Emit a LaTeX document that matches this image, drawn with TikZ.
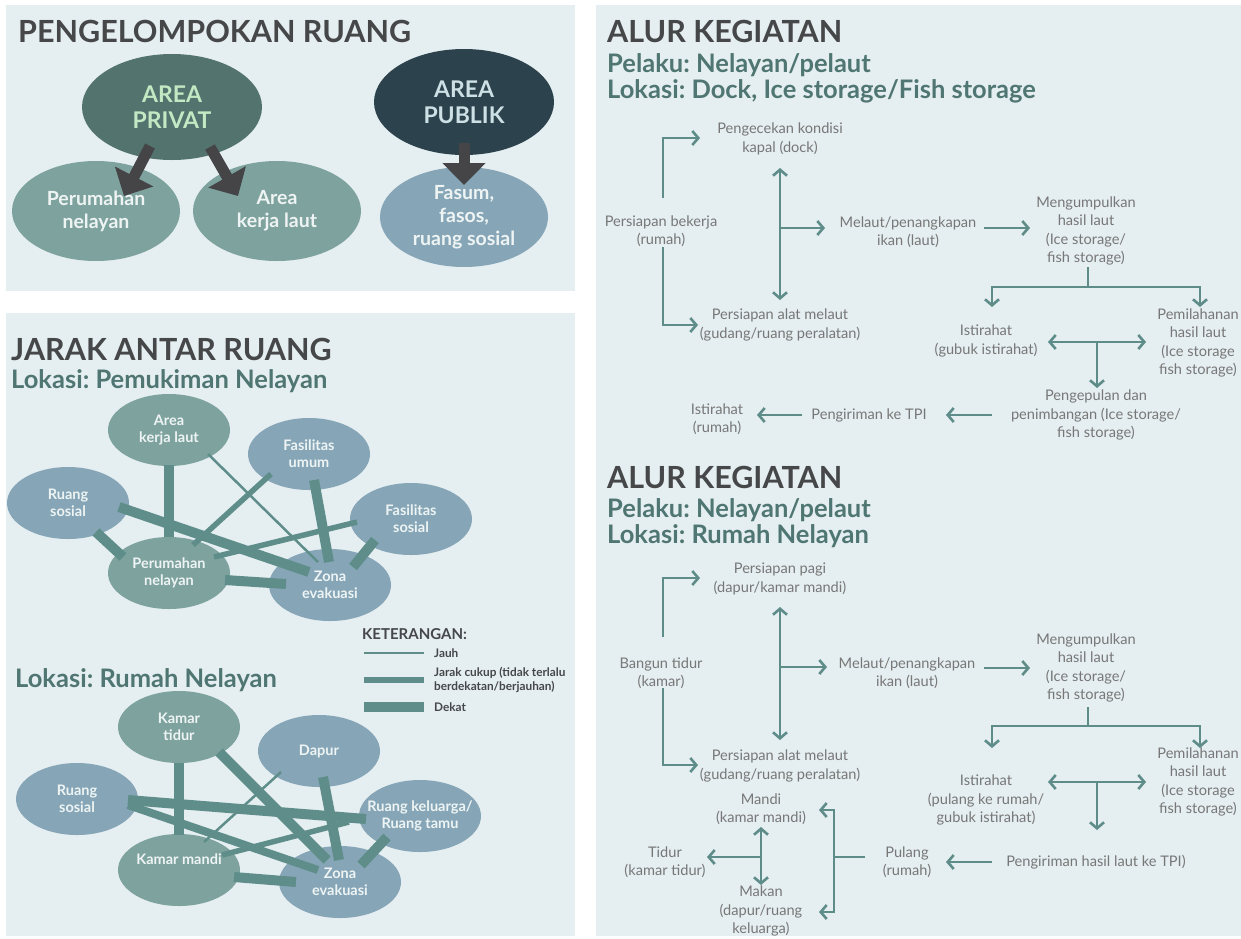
\documentclass[tikz,border=0pt]{standalone}
\usepackage{fontspec}
\setmainfont{Lato}
\frenchspacing
\usetikzlibrary{shapes.geometric,arrows.meta,calc}
\definecolor{panel}{HTML}{E5EEF1}
\definecolor{headc}{HTML}{454749}
\definecolor{subc}{HTML}{4F7672}
\definecolor{privc}{HTML}{53736F}
\definecolor{privtxt}{HTML}{C4E8C3}
\definecolor{pubc}{HTML}{2C424C}
\definecolor{pubtxt}{HTML}{CDE0E5}
\definecolor{greenc}{HTML}{7EA39F}
\definecolor{bluec}{HTML}{86A6B8}
\definecolor{lighttxt}{HTML}{EEF4F3}
\definecolor{edgec}{HTML}{5F8E8A}
\definecolor{arrowc}{HTML}{454547}
\definecolor{flowc}{HTML}{5E8C89}
\definecolor{flowtxt}{HTML}{777777}
\tikzset{
  h1/.style={anchor=base west, font=\fontsize{30.5}{34}\selectfont\bfseries, text=headc, inner sep=0pt},
  h2/.style={anchor=base west, font=\fontsize{25.5}{29}\selectfont\bfseries, text=subc, inner sep=0pt},
  bigell/.style={ellipse, minimum width=180pt, minimum height=106pt, inner sep=0pt, align=center, font=\fontsize{23}{26}\selectfont\bfseries},
  midell/.style={ellipse, minimum width=168pt, minimum height=100pt, inner sep=0pt, align=center, text=lighttxt, font=\fontsize{19.5}{23}\selectfont\bfseries},
  netell/.style={ellipse, minimum width=122pt, minimum height=72pt, inner xsep=-14pt, inner ysep=0pt, align=center, text=lighttxt, font=\fontsize{14.5}{17}\selectfont\bfseries},
  jauh/.style={draw=edgec, line width=2.5pt},
  cukup/.style={draw=edgec, line width=5.5pt},
  dekat/.style={draw=edgec, line width=10pt},
  block/.style={draw=arrowc, line width=11pt, -{Triangle[length=22pt,width=42pt]}},
  legtxt/.style={anchor=west, inner sep=0pt, text=headc, align=left, font=\fontsize{11.8}{14}\selectfont\bfseries},
  flow/.style={inner sep=0pt, align=center, text=flowtxt, font=\fontsize{14.6}{18.3}\selectfont},
  fl/.style={draw=flowc, line width=2.6pt},
  fa/.style={fl, -{Straight Barb[length=6pt,width=14pt]}},
  fda/.style={fl, {Straight Barb[length=6pt,width=14pt]}-{Straight Barb[length=6pt,width=14pt]}}
}
\begin{document}
\begin{tikzpicture}[x=1pt,y=-1pt]
\useasboundingbox (0,0) rectangle (1241,938);
\fill[white] (0,0) rectangle (1241,938);
\fill[panel] (6,5) rectangle (575,291);
\fill[panel] (6,313) rectangle (575,936);
\fill[panel] (596,5) rectangle (1241,936);

% ---------- Panel 1 ----------
\node[h1] (t1) at (18,42) {PENGELOMPOKAN RUANG};
\node[bigell, fill=privc, text=privtxt] (priv) at (172,107) {AREA\\PRIVAT};
\node[bigell, fill=pubc, text=pubtxt] (pub) at (464,102) {AREA\\PUBLIK};
\node[midell, fill=greenc] (per0) at (96,211) {Perumahan\\nelayan};
\node[midell, fill=greenc] (akl0) at (277,211) {Area\\kerja laut};
\node[midell, fill=bluec] (fas0) at (464,217) {Fasum,\\fasos,\\ruang sosial};
\draw[block] ($(priv)+(-22,39)$) -- ($(per0)+(28,-15)$);
\draw[block] ($(priv)+(38,40)$) -- ($(akl0)+(-39,-15)$);
\draw[block] ($(pub)+(0,41)$) -- ($(fas0)+(0,-32)$);

% ---------- Panel 2 ----------
\node[h1] (t2) at (11,360) {JARAK ANTAR RUANG};
\node[h2] (t2b) at (11,388) {Lokasi: Pemukiman Nelayan};
\node[netell, fill=greenc] (akl) at (169,430) {Area\\kerja laut};
\node[netell, fill=bluec] (fu) at (309,454) {Fasilitas\\umum};
\node[netell, fill=bluec] (rs) at (68,503) {Ruang\\sosial};
\node[netell, fill=bluec] (fs) at (411,519) {Fasilitas\\sosial};
\node[netell, fill=greenc] (per) at (169,573) {Perumahan\\nelayan};
\node[netell, fill=bluec] (ze) at (330,585) {Zona\\evakuasi};
\draw[dekat] ($(akl)+(0,35)$) -- ($(per)+(0,-36)$);
\draw[jauh] ($(akl)+(39,24)$) -- ($(ze)+(-12,-23)$);
\draw[cukup] ($(fu)+(-38,20)$) -- ($(per)+(24,-28)$);
\draw[dekat] ($(fu)+(5,26)$) -- ($(ze)+(-1,-23)$);
\draw[dekat] ($(rs)+(51,4)$) -- ($(ze)+(-21,-13)$);
\draw[dekat] ($(rs)+(28,29)$) -- ($(per)+(-46,-16)$);
\draw[cukup] ($(fs)+(-54,3)$) -- ($(per)+(45,-16)$);
\draw[dekat] ($(fs)+(-36,21)$) -- ($(ze)+(23,-18)$);
\draw[dekat] ($(per)+(56,7)$) -- ($(ze)+(-44,-1)$);

% legend
\node[legtxt, font=\fontsize{15}{17}\selectfont\bfseries] (ket) at (362,634) {KETERANGAN:};
\coordinate (l1a) at (364,653); \coordinate (l1b) at (424,653);
\coordinate (l2a) at (364,680); \coordinate (l2b) at (424,680);
\coordinate (l3a) at (364,707); \coordinate (l3b) at (424,707);
\draw[jauh] (l1a) -- (l1b);
\draw[cukup] (l2a) -- (l2b);
\draw[dekat] (l3a) -- (l3b);
\node[legtxt] (lg1) at (434,653) {Jauh};
\node[legtxt] (lg2) at (434,680) {Jarak cukup (tidak terlalu\\berdekatan/berjauhan)};
\node[legtxt] (lg3) at (434,707) {Dekat};

\node[h2] (t2c) at (15,687) {Lokasi: Rumah Nelayan};
\node[netell, fill=greenc] (kt) at (179,727) {Kamar\\tidur};
\node[netell, fill=bluec] (dp) at (319,751) {Dapur};
\node[netell, fill=bluec] (rs2) at (77,799) {Ruang\\sosial};
\node[netell, fill=bluec] (rk) at (420,816) {Ruang keluarga/\\Ruang tamu};
\node[netell, fill=greenc] (km) at (179,870) {Kamar mandi\\[4pt]};
\node[netell, fill=bluec] (ze2) at (340,882) {Zona\\evakuasi};
\draw[dekat] ($(kt)+(0,36)$) -- ($(km)+(0,-35)$);
\draw[dekat] ($(kt)+(40,25)$) -- ($(ze2)+(-13,-22)$);
\draw[jauh] ($(dp)+(-38,21)$) -- ($(km)+(25,-28)$);
\draw[dekat] ($(dp)+(4,26)$) -- ($(ze2)+(-1,-22)$);
\draw[dekat] ($(rs2)+(51,1)$) -- ($(rk)+(-54,3)$);
\draw[draw=edgec, line width=8pt] ($(rs2)+(51,6)$) -- ($(ze2)+(-22,-12)$);
\draw[cukup] ($(rk)+(-71,6)$) -- ($(km)+(43,-15)$);
\draw[dekat] ($(rk)+(-33,21)$) -- ($(ze2)+(21,-17)$);
\draw[dekat] ($(km)+(55,7)$) -- ($(ze2)+(-44,0)$);

% ---------- Panel 3, flow 1 ----------
\node[h1] (t3) at (607,42) {ALUR KEGIATAN};
\node[h2] (t3b) at (607,72) {Pelaku: Nelayan/pelaut};
\node[h2] (t3c) at (607,98) {Lokasi: Dock, Ice storage/Fish storage};

\node[flow] (a1) at (661,231) {Persiapan bekerja\\(rumah)};
\node[flow] (a2) at (780,139) {Pengecekan kondisi\\kapal (dock)};
\node[flow] (a3) at (780,325) {Persiapan alat melaut\\(gudang/ruang peralatan)};
\node[flow] (a4) at (908,232) {Melaut/penangkapan\\ikan (laut)};
\node[flow] (a5) at (1086,231) {Mengumpulkan\\hasil laut\\(Ice storage/\\fish storage)};
\node[flow] (a6) at (986,341) {Istirahat\\(gubuk istirahat)};
\node[flow] (a7) at (1198,343) {Pemilahanan\\hasil laut\\(Ice storage\\fish storage)};
\node[flow] (a8) at (1096,415) {Pengepulan dan\\penimbangan (Ice storage/\\fish storage)};
\node[flow] (a9) at (869,415) {Pengiriman ke TPI};
\node[flow] (a10) at (717,419) {Istirahat\\(rumah)};

\coordinate (p1) at (663,198); \coordinate (p1e) at (700,138);
\coordinate (p2) at (780,168); \coordinate (p2e) at (780,300);
\coordinate (p3) at (780,228); \coordinate (p3e) at (825,228);
\coordinate (p4) at (663,247); \coordinate (p4e) at (698,325);
\coordinate (p5) at (984,228); \coordinate (p5e) at (1030,228);
\coordinate (p6) at (1088,267); \coordinate (p6j) at (1088,287);
\coordinate (p6l) at (992,307); \coordinate (p6r) at (1200,307);
\coordinate (p7l) at (1048,342); \coordinate (p7r) at (1146,342);
\coordinate (p7j) at (1097,342); \coordinate (p7e) at (1097,388);
\coordinate (p8) at (992,415); \coordinate (p8e) at (946,415);
\coordinate (p9) at (802,415); \coordinate (p9e) at (757,415);
\draw[fa] (p1) |- (p1e);
\draw[fda] (p2) -- (p2e);
\draw[fa] (p3) -- (p3e);
\draw[fa] (p4) |- (p4e);
\draw[fa] (p5) -- (p5e);
\draw[fa] (p6) -- (p6j) -| (p6l);
\draw[fa] (p6j) -| (p6r);
\draw[fda] (p7l) -- (p7r);
\draw[fa] (p7j) -- (p7e);
\draw[fa] (p8) -- (p8e);
\draw[fa] (p9) -- (p9e);

% ---------- Panel 3, flow 2 ----------
\node[h1] (t4) at (607,488) {ALUR KEGIATAN};
\node[h2] (t4b) at (607,517) {Pelaku: Nelayan/pelaut};
\node[h2] (t4c) at (607,543) {Lokasi: Rumah Nelayan};

\node[flow] (b1) at (661,673) {Bangun tidur\\(kamar)};
\node[flow] (b2) at (780,579) {Persiapan pagi\\(dapur/kamar mandi)};
\node[flow] (b3) at (907,673) {Melaut/penangkapan\\ikan (laut)};
\node[flow] (b4) at (1086,668) {Mengumpulkan\\hasil laut\\(Ice storage/\\fish storage)};
\node[flow] (b5) at (780,766) {Persiapan alat melaut\\(gudang/ruang peralatan)};
\node[flow] (b6) at (986,800) {Istirahat\\(pulang ke rumah/\\gubuk istirahat)};
\node[flow] (b7) at (1198,782) {Pemilahanan\\hasil laut\\(Ice storage\\fish storage)};
\node[flow] (b8) at (1096,862) {Pengiriman hasil laut ke TPI)};
\node[flow] (b9) at (907,862) {Pulang\\(rumah)};
\node[flow] (b10) at (761,809) {Mandi\\(kamar mandi)};
\node[flow] (b11) at (665,862) {Tidur\\(kamar tidur)};
\node[flow] (b12) at (761,911) {Makan\\(dapur/ruang\\keluarga)};

\coordinate (q1) at (663,637); \coordinate (q1e) at (700,578);
\coordinate (q2) at (780,607); \coordinate (q2e) at (780,740);
\coordinate (q3) at (780,667); \coordinate (q3e) at (827,667);
\coordinate (q4) at (663,688); \coordinate (q4e) at (698,765);
\coordinate (q5) at (984,668); \coordinate (q5e) at (1030,668);
\coordinate (q6) at (1088,707); \coordinate (q6j) at (1088,726);
\coordinate (q6l) at (992,748); \coordinate (q6r) at (1200,748);
\coordinate (q7l) at (1048,782); \coordinate (q7r) at (1146,782);
\coordinate (q7j) at (1097,782); \coordinate (q7e) at (1097,830);
\coordinate (q8) at (992,862); \coordinate (q8e) at (946,862);
\coordinate (q9) at (865,857); \coordinate (q9j) at (834,857);
\coordinate (q9t) at (819,810); \coordinate (q9b) at (819,912);
\coordinate (q10t) at (761,827); \coordinate (q10b) at (761,885);
\coordinate (q10j) at (761,857); \coordinate (q10e) at (707,857);
\draw[fa] (q1) |- (q1e);
\draw[fda] (q2) -- (q2e);
\draw[fa] (q3) -- (q3e);
\draw[fa] (q4) |- (q4e);
\draw[fa] (q5) -- (q5e);
\draw[fa] (q6) -- (q6j) -| (q6l);
\draw[fa] (q6j) -| (q6r);
\draw[fda] (q7l) -- (q7r);
\draw[fa] (q7j) -- (q7e);
\draw[fa] (q8) -- (q8e);
\draw[fl] (q9) -- (q9j);
\draw[fda] (q9t) -| (q9j) |- (q9b);
\draw[fda] (q10t) -- (q10b);
\draw[fa] (q10j) -- (q10e);
\end{tikzpicture}
\end{document}
